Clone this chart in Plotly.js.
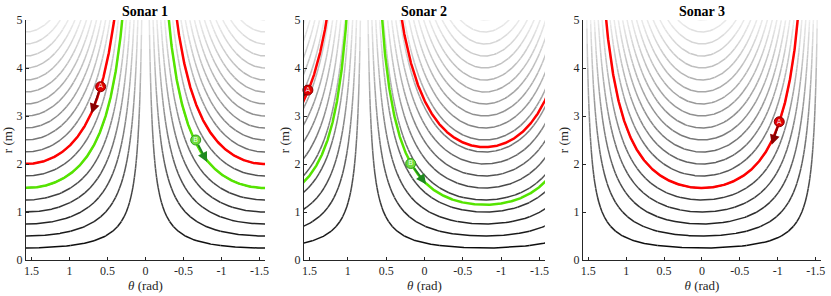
<!DOCTYPE html>
<html>
<head>
<meta charset="utf-8">
<script src="https://cdn.plot.ly/plotly-3.0.1.min.js"></script>
<style>html,body{margin:0;padding:0;background:#fff;}#chart{width:831px;height:296px;}</style>
</head>
<body>
<div id="chart"></div>
<script>
// ---------------- data ----------------
const sonarNames = ['Sonar 1', 'Sonar 2', 'Sonar 3'];
// orientation (rad) of the wall normal seen by each sonar
const wallNormalAngle = [1.5708, -0.785, 0];
// distances (m) of the grey iso-distance curves
const greyDistances = [0.25, 0.5, 0.75, 1.0, 1.25, 1.5, 1.75, 2.0, 2.25, 2.5,
                       2.75, 3.0, 3.25, 3.5, 3.75, 4.0, 4.25, 4.5, 4.75, 5.0];
// highlighted curves (distance, m) per sonar (null = none)
const redDistance = [2.0, 2.35, 1.5];
const greenDistance = [1.5, 1.15, null];
// landmark A (red) markers and arrow heads
const markerATheta = [0.59, 1.52, -1.02];
const markerAR = [3.61, 3.54, 2.88];
const arrowATheta = [0.71, 1.61, -0.92];
const arrowAR = [3.05, 3.34, 2.40];
// landmark B (green) markers and arrow heads
const markerBTheta = [-0.66, 0.18, null];
const markerBR = [2.50, 2.01, null];
const arrowBTheta = [-0.81, -0.02, null];
const arrowBR = [2.04, 1.58, null];
// axis ticks
const thetaTicks = [1.5, 1, 0.5, 0, -0.5, -1, -1.5];
const thetaTickText = ['1.5', '1', '0.5', '0', '-0.5', '-1', '-1.5'];
const rTicks = [0, 1, 2, 3, 4, 5];
const rTickText = ['0', '1', '2', '3', '4', '5'];

// ---------------- helpers ----------------
const RMAX = 5.4, HALF = Math.PI / 2;
function rOf(d, a, th) { return d / Math.abs(Math.cos(th - a)); }
function bisect(d, a, thIn, thOut) {
  let lo = thIn, hi = thOut;
  for (let k = 0; k < 40; k++) {
    const m = (lo + hi) / 2;
    if (rOf(d, a, m) <= RMAX) lo = m; else hi = m;
  }
  return lo;
}
function curveSegments(d, a) {
  const N = 900, t0 = HALF + 0.03, t1 = -HALF - 0.03;
  const segs = []; let cur = [];
  let prevTh = null, prevValid = false;
  for (let j = 0; j <= N; j++) {
    const th = t0 + (t1 - t0) * j / N;
    const r = rOf(d, a, th);
    const valid = r <= RMAX;
    if (valid) {
      if (!prevValid && prevTh !== null) {
        const tb = bisect(d, a, th, prevTh);
        cur.push([tb, rOf(d, a, tb)]);
      }
      cur.push([th, r]);
    } else if (prevValid) {
      const tb = bisect(d, a, prevTh, th);
      cur.push([tb, rOf(d, a, tb)]);
      segs.push(cur); cur = [];
    }
    prevTh = th; prevValid = valid;
  }
  if (cur.length) segs.push(cur);
  return segs;
}
function greyOf(r) {
  const v = Math.round(245 * Math.min(1, Math.max(0, r) / 5.2));
  return 'rgb(' + v + ',' + v + ',' + v + ')';
}

const traces = [];
const annotations = [];
const BINW = 0.1, NB = Math.ceil(RMAX / BINW) + 1;
const serif = '"Liberation Serif", "Times New Roman", Times, serif';

for (let i = 0; i < 3; i++) {
  const xa = i === 0 ? 'x' : 'x' + (i + 1);
  const ya = i === 0 ? 'y' : 'y' + (i + 1);
  const a = wallNormalAngle[i];
  const bins = [];
  for (let b = 0; b < NB; b++) bins.push({x: [], y: [], tail: null});
  greyDistances.forEach(d => {
    curveSegments(d, a).forEach(seg => {
      for (let k = 0; k < seg.length - 1; k++) {
        const p1 = seg[k], p2 = seg[k + 1];
        const rm = (p1[1] + p2[1]) / 2;
        const b = Math.min(NB - 1, Math.floor(rm / BINW));
        const bin = bins[b];
        if (bin.tail !== p1) {
          if (bin.x.length) { bin.x.push(null); bin.y.push(null); }
          bin.x.push(p1[0]); bin.y.push(p1[1]);
        }
        bin.x.push(p2[0]); bin.y.push(p2[1]);
        bin.tail = p2;
      }
    });
  });
  bins.forEach((bin, b) => {
    if (!bin.x.length) return;
    traces.push({x: bin.x, y: bin.y, mode: 'lines', xaxis: xa, yaxis: ya,
      line: {color: greyOf((b + 0.5) * BINW), width: 1.5},
      hoverinfo: 'skip', showlegend: false});
  });
  function coloured(d, color) {
    const xs = [], ys = [];
    curveSegments(d, a).forEach(seg => {
      if (xs.length) { xs.push(null); ys.push(null); }
      seg.forEach(p => { xs.push(p[0]); ys.push(p[1]); });
    });
    traces.push({x: xs, y: ys, mode: 'lines', xaxis: xa, yaxis: ya,
      line: {color: color, width: 2.5}, hoverinfo: 'skip', showlegend: false});
  }
  if (greenDistance[i] !== null) coloured(greenDistance[i], '#55e400');
  if (redDistance[i] !== null) coloured(redDistance[i], '#ff0000');

  // arrows
  function arrow(tx, ty, hx, hy, color) {
    if (hx > HALF) {
      traces.push({x: [tx, hx], y: [ty, hy], mode: 'lines', xaxis: xa, yaxis: ya,
        line: {color: color, width: 2}, hoverinfo: 'skip', showlegend: false});
    } else {
      annotations.push({x: hx, y: hy, ax: tx, ay: ty, xref: xa, yref: ya,
        axref: xa, ayref: ya, text: '', showarrow: true, arrowhead: 2,
        arrowsize: 1, arrowwidth: 2, arrowcolor: color, startstandoff: 4});
    }
  }
  arrow(markerATheta[i], markerAR[i], arrowATheta[i], arrowAR[i], '#8b0000');
  if (markerBTheta[i] !== null)
    arrow(markerBTheta[i], markerBR[i], arrowBTheta[i], arrowBR[i], '#1f8a1f');

  // markers
  traces.push({x: [markerATheta[i]], y: [markerAR[i]], mode: 'markers+text',
    xaxis: xa, yaxis: ya, text: ['A'], textposition: 'middle center',
    textfont: {family: 'DejaVu Sans', size: 7, color: '#ffdddd'},
    marker: {size: 10, color: '#e00000', line: {color: '#8b0000', width: 1}},
    cliponaxis: false, hoverinfo: 'skip', showlegend: false});
  if (markerBTheta[i] !== null)
    traces.push({x: [markerBTheta[i]], y: [markerBR[i]], mode: 'markers+text',
      xaxis: xa, yaxis: ya, text: ['B'], textposition: 'middle center',
      textfont: {family: 'DejaVu Sans', size: 7, color: '#f0fff0'},
      marker: {size: 10, color: '#6fdc3c', line: {color: '#2e9a1e', width: 1}},
      cliponaxis: false, hoverinfo: 'skip', showlegend: false});

  // subplot title
  annotations.push({text: '<b>' + sonarNames[i] + '</b>', xref: xa + ' domain', x: 0.5,
    yref: 'paper', y: 1, yanchor: 'bottom', xanchor: 'center', showarrow: false,
    yshift: -1, font: {family: serif, size: 14, color: '#000'}});
}

const domains = [[0, 0.3006], [0.3497, 0.6528], [0.7006, 1]];
const layout = {
  width: 831, height: 296,
  margin: {l: 26, r: 10, t: 20, b: 36, pad: 0},
  paper_bgcolor: '#fff', plot_bgcolor: '#fff',
  font: {family: serif, size: 11, color: '#222'},
  showlegend: false,
  annotations: annotations
};
for (let i = 0; i < 3; i++) {
  const sfx = i === 0 ? '' : String(i + 1);
  layout['xaxis' + sfx] = {
    domain: domains[i], anchor: 'y' + sfx, range: [HALF, -HALF],
    tickmode: 'array', tickvals: thetaTicks, ticktext: thetaTickText,
    ticks: 'inside', ticklen: 3, tickcolor: '#262626', tickwidth: 1,
    showline: true, linecolor: '#262626', linewidth: 1,
    showgrid: false, zeroline: false, fixedrange: true,
    tickfont: {family: serif, size: 12, color: '#262626'},
    title: {text: '<i>θ</i> (rad)', standoff: 2, font: {family: serif, size: 13, color: '#262626'}}
  };
  layout['yaxis' + sfx] = {
    domain: [0, 1], anchor: 'x' + sfx, range: [0, 5],
    tickmode: 'array', tickvals: rTicks, ticktext: rTickText,
    ticks: 'inside', ticklen: 3, tickcolor: '#262626', tickwidth: 1,
    showline: true, linecolor: '#262626', linewidth: 1,
    showgrid: false, zeroline: false, fixedrange: true,
    tickfont: {family: serif, size: 12, color: '#262626'},
    title: {text: 'r (m)', standoff: 2, font: {family: serif, size: 13, color: '#262626'}}
  };
}
Plotly.newPlot('chart', traces, layout, {staticPlot: true, displayModeBar: false});
</script>
</body>
</html>
